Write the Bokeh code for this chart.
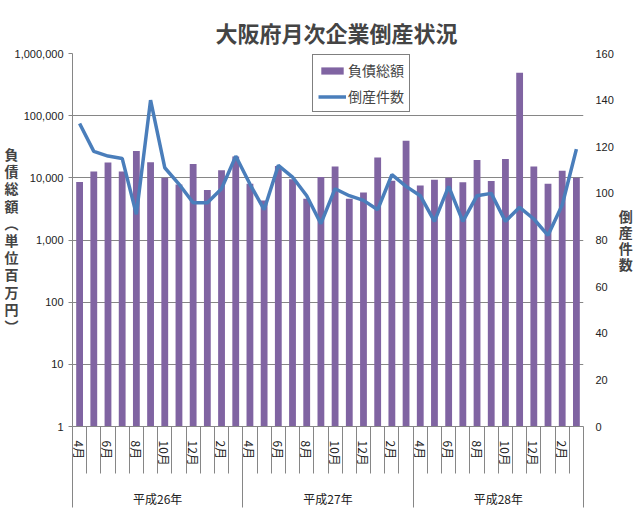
import math
from bokeh.plotting import figure
from bokeh.models import (Range1d, LinearScale, LinearAxis, FixedTicker, NumeralTickFormatter,
                          Legend, LegendItem)
from bokeh.embed import file_html
from bokeh.resources import INLINE

# ---- data ----
months = ["4月", "5月", "6月", "7月", "8月", "9月", "10月", "11月", "12月", "1月", "2月", "3月"] * 3
years = ["平成26年", "平成27年", "平成28年"]
debt = [8600, 12600, 17600, 12600, 27000, 17800, 10000, 7800, 16700, 6400, 13300, 22000,
        8000, 4300, 15500, 9500, 4600, 10300, 15200, 4600, 5800, 21200, 9000, 39500,
        7500, 9300, 10000, 8500, 19400, 8900, 20000, 490000, 15200, 8000, 13000, 10000]
count = [130, 118, 116, 115, 91, 140, 111, 104, 96, 96, 102, 116,
         104, 93, 112, 107, 99, 87, 102, 99, 97, 93, 108, 103,
         99, 88, 103, 88, 99, 100, 88, 94, 89, 82, 95, 119]
left_ticks = [1, 10, 100, 1000, 10000, 100000, 1000000]
right_ticks = [0, 20, 40, 60, 80, 100, 120, 140, 160]
left_title = "負債総額︵単位百万円︶"
right_title = "倒産件数"

n = len(debt)
xs = list(range(n))
group_size = 12

BAR = "#8064A2"
LINE = "#4A7EBB"
GRID = "#868686"
NUMFONT = "Liberation Sans"
JPFONT = "Noto Sans CJK JP"

p = figure(width=640, height=509, output_backend="svg", toolbar_location=None,
           y_axis_type="log", x_range=Range1d(-0.5, n - 0.5), y_range=Range1d(1, 1000000))
p.min_border_left = 72
p.min_border_right = 57
p.min_border_top = 53
p.min_border_bottom = 81
p.outline_line_color = None
p.background_fill_color = "white"
p.border_fill_color = "white"
p.styles = {"outline": "1px solid #8c8c8c", "outline-offset": "-2px"}

p.extra_y_ranges = {"count": Range1d(0, 160)}
p.extra_y_scales = {"count": LinearScale()}

# title
p.title.text = "大阪府月次企業倒産状況"
p.title.text_font = JPFONT
p.title.text_font_size = "22px"
p.title.text_font_style = "bold"
p.title.align = "left"
p.title.offset = 143
p.title.standoff = 12

# bars and line
bars = p.vbar(x=xs, top=debt, bottom=1, width=0.48, fill_color=BAR, line_color=None)
line = p.line(x=xs, y=count, y_range_name="count", line_color=LINE, line_width=3.5)

# left log axis
ya = p.yaxis[0]
ya.ticker = FixedTicker(ticks=left_ticks)
ya.formatter = NumeralTickFormatter(format="0,0")
ya.axis_line_color = GRID
ya.major_tick_line_color = GRID
ya.major_tick_out = 4
ya.major_tick_in = 0
ya.minor_tick_line_color = None
ya.major_label_standoff = 5
ya.major_label_text_font = NUMFONT
ya.major_label_text_font_size = "11px"
ya.major_label_text_color = "#222222"
ya.axis_label = "\n".join(left_title)
ya.axis_label_orientation = "horizontal"
ya.axis_label_standoff = -7
ya.axis_label_text_font = JPFONT
ya.axis_label_text_font_size = "14px"
ya.axis_label_text_font_style = "bold"
ya.axis_label_text_line_height = 0.86
p.ygrid[0].ticker = FixedTicker(ticks=left_ticks)
p.ygrid[0].grid_line_color = GRID
p.ygrid[0].grid_line_width = 1
p.xgrid.visible = False

# right axis
ra = LinearAxis(y_range_name="count", ticker=FixedTicker(ticks=right_ticks))
ra.axis_line_color = None
ra.major_tick_line_color = None
ra.major_tick_out = 0
ra.major_tick_in = 0
ra.minor_tick_line_color = None
ra.major_label_standoff = 12
ra.major_label_text_font = NUMFONT
ra.major_label_text_font_size = "11px"
ra.major_label_text_color = "#222222"
ra.axis_label = "\n".join(right_title)
ra.axis_label_orientation = "horizontal"
ra.axis_label_standoff = 2
ra.axis_label_text_font = JPFONT
ra.axis_label_text_font_size = "14px"
ra.axis_label_text_font_style = "bold"
ra.axis_label_text_line_height = 0.8
p.add_layout(ra, "right")

# month axis (labels every other month, divider at every month boundary)
xa = p.xaxis[0]
xa.ticker = FixedTicker(ticks=[i for i in xs if i % 2 == 0],
                        minor_ticks=[i - 0.5 for i in range(n + 1)])
xa.major_label_overrides = {i: months[i] for i in xs if i % 2 == 0}
xa.major_label_orientation = "vertical"
xa.major_label_standoff = -33
xa.major_label_text_font = JPFONT
xa.major_label_text_font_size = "12px"
xa.major_label_text_color = "#222222"
xa.axis_line_color = GRID
xa.major_tick_out = 0
xa.major_tick_in = 0
xa.major_tick_line_color = None
xa.minor_tick_out = 47
xa.minor_tick_in = 0
xa.minor_tick_line_color = GRID

# year axis (labels at group centres, long dividers at group boundaries)
centers = [g * group_size + (group_size - 1) / 2 for g in range(len(years))]
bounds = [g * group_size - 0.5 for g in range(len(years) + 1)]
ga = LinearAxis(ticker=FixedTicker(ticks=centers, minor_ticks=bounds))
ga.major_label_overrides = {c: y for c, y in zip(centers, years)}
ga.axis_line_color = None
ga.major_tick_line_color = None
ga.major_tick_out = 0
ga.major_tick_in = 0
ga.minor_tick_in = 34
ga.minor_tick_out = 39
ga.minor_tick_line_color = GRID
ga.major_label_standoff = -18
ga.major_label_text_font = JPFONT
ga.major_label_text_font_size = "12px"
ga.major_label_text_color = "#222222"
p.add_layout(ga, "below")

# legend
legend = Legend(items=[LegendItem(label="負債総額", renderers=[bars]),
                       LegendItem(label="倒産件数", renderers=[line])],
                location=(240, 314))
legend.label_text_font = JPFONT
legend.label_text_font_size = "14px"
legend.label_height = 17
legend.glyph_height = 9
legend.glyph_width = 28
legend.label_standoff = 2
legend.padding = 5
legend.spacing = 6
legend.margin = 0
legend.border_line_color = "black"
legend.border_line_width = 1
legend.background_fill_alpha = 1
p.add_layout(legend)

open("out.html", "w").write(file_html(p, INLINE))
